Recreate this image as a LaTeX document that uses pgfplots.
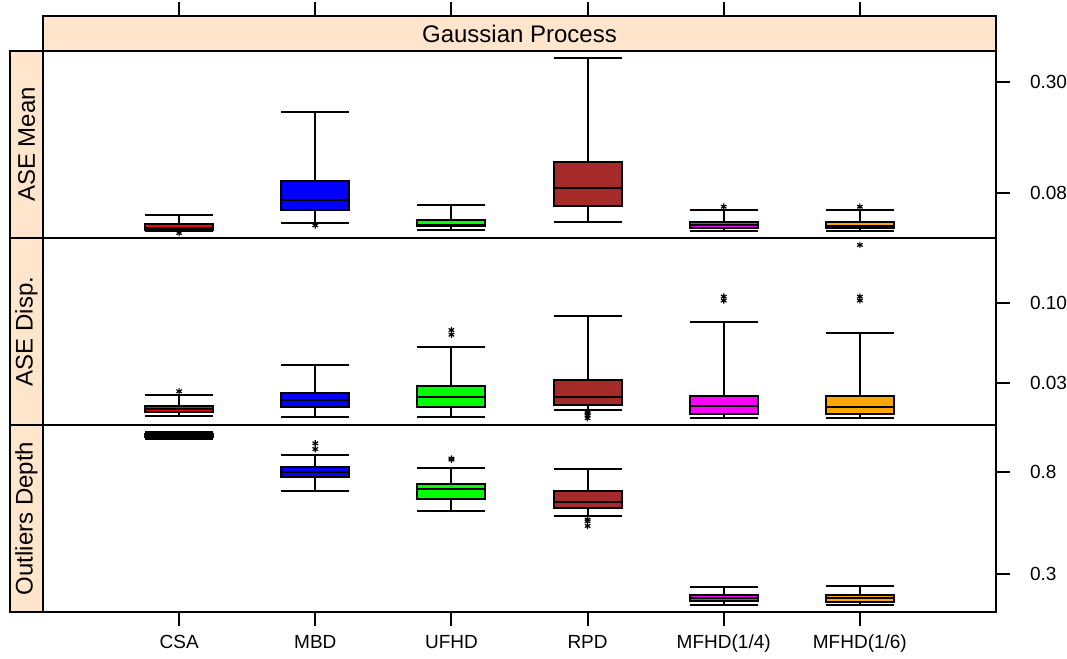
\documentclass[border=0pt]{standalone}
\usepackage{pgfplots}
\pgfplotsset{compat=1.18}
\usepgfplotslibrary{statistics}
\usepackage{fontspec}
\setmainfont{Liberation Sans}
\definecolor{strip}{HTML}{FFE5CC}
\definecolor{rpd}{HTML}{A52A2A}
\definecolor{orng}{HTML}{FFA500}
\definecolor{csa}{HTML}{FF0000}
\definecolor{mbd}{HTML}{0000FF}
\definecolor{ufhd}{HTML}{00FF00}
\definecolor{mfa}{HTML}{FF00FF}
\pgfplotsset{
  panel/.style={
    scale only axis, width=476.5pt, height=93.5pt,
    xmin=0, xmax=7, axis line style={line width=1pt},
    tick align=outside, major tick length=7pt,
    every tick/.style={black, line width=1pt},
    ytick pos=right, yticklabel pos=right,
    xtick=\empty,
    tick label style={font=\fontsize{9.5}{11}\selectfont},
    yticklabel style={anchor=west, xshift=6.5pt},
    xticklabel style={yshift=-1pt},
    anchor=south west,
    boxplot/draw direction=y,
  },
  bp/.style={draw=black, line width=1pt, mark=asterisk, mark size=1.6pt,
    mark options={line width=0.6pt, solid, black}},
}
\newcommand{\bx}[7]{% pos, color, lw, q1, med, q3, uw
  \addplot[bp, fill=#2, boxplot prepared={draw position=#1, lower whisker=#3,
    lower quartile=#4, median=#5, upper quartile=#6, upper whisker=#7,
    box extend=0.5, whisker extend=0.5}]}
\begin{document}
\begin{tikzpicture}
\useasboundingbox (0,0) rectangle (533.5pt,329.5pt);
% Panel 1: ASE Mean
\begin{axis}[panel, at={(21.5pt,210.5pt)}, ymode=log, ymin=0.04658, ymax=0.4344,
  ytick={0.08,0.3}, yticklabels={0.08,0.30}]
\bx{1}{csa}{0.0506}{0.0513}{0.0525}{0.0552}{0.0611} table[row sep=\\,y index=0]{y\\0.0494\\};
\bx{2}{mbd}{0.0559}{0.0653}{0.0736}{0.0920}{0.2097} table[row sep=\\,y index=0]{y\\0.0542\\};
\bx{3}{ufhd}{0.0513}{0.0536}{0.0547}{0.0578}{0.0693} coordinates {};
\bx{4}{rpd}{0.0562}{0.0680}{0.0849}{0.1154}{0.3995} coordinates {};
\bx{5}{mfa}{0.0506}{0.0523}{0.0544}{0.0564}{0.0653} table[row sep=\\,y index=0]{y\\0.0677\\};
\bx{6}{orng}{0.0506}{0.0523}{0.0540}{0.0564}{0.0653} table[row sep=\\,y index=0]{y\\0.0677\\};
\end{axis}
% Panel 2: ASE Disp.
\begin{axis}[panel, at={(21.5pt,117pt)}, ymode=log, ymin=0.0159, ymax=0.2672,
  ytick={0.03,0.1}, yticklabels={0.03,0.10}]
\bx{1}{csa}{0.01834}{0.01948}{0.02029}{0.02110}{0.02504} table[row sep=\\,y index=0]{y\\0.02644\\};
\bx{2}{mbd}{0.01787}{0.02079}{0.02323}{0.02559}{0.03933} coordinates {};
\bx{3}{ufhd}{0.01787}{0.02101}{0.02441}{0.02868}{0.0518} table[row sep=\\,y index=0]{y\\0.0621\\0.0666\\};
\bx{4}{rpd}{0.01999}{0.02164}{0.02415}{0.03153}{0.0826} table[row sep=\\,y index=0]{y\\0.01928\\0.01890\\0.01834\\0.01761\\};
\bx{5}{mfa}{0.01779}{0.01890}{0.02110}{0.02478}{0.0747} table[row sep=\\,y index=0]{y\\0.1040\\0.1104\\};
\bx{6}{orng}{0.01779}{0.01890}{0.02079}{0.02478}{0.0637} table[row sep=\\,y index=0]{y\\0.1040\\0.1104\\0.2405\\};
\end{axis}
% Panel 3: Outliers Depth
\begin{axis}[panel, at={(21.5pt,23.5pt)}, ymin=0.1120, ymax=1.0298,
  ytick={0.3,0.8}, yticklabels={0.3,0.8},
  xtick={1,2,3,4,5,6}, xtick pos=left,
  xticklabels={CSA,MBD,UFHD,RPD,MFHD(1/4),MFHD(1/6)}]
\bx{1}{csa}{0.9624}{0.9708}{0.9782}{0.9855}{0.9954} coordinates {};
\bx{2}{mbd}{0.7065}{0.7724}{0.8000}{0.8246}{0.8837} table[row sep=\\,y index=0]{y\\0.9117\\0.9398\\};
\bx{3}{ufhd}{0.6066}{0.6671}{0.7134}{0.7395}{0.8182} table[row sep=\\,y index=0]{y\\0.8600\\0.8650\\};
\bx{4}{rpd}{0.5835}{0.6228}{0.6509}{0.7050}{0.8148} table[row sep=\\,y index=0]{y\\0.5658\\0.5574\\0.5343\\};
\bx{5}{mfa}{0.1440}{0.1637}{0.1799}{0.1932}{0.2341} coordinates {};
\bx{6}{orng}{0.1440}{0.1602}{0.1784}{0.1967}{0.2375} coordinates {};
\end{axis}
% strips
\draw[line width=1pt, fill=strip] (21.5pt,304pt) rectangle (498pt,321.5pt);
\node[font=\fontsize{12}{14}\selectfont] at (259.75pt,312.75pt) {Gaussian Process};
\draw[line width=1pt, fill=strip] (5pt,210.5pt) rectangle (21.5pt,304pt);
\draw[line width=1pt, fill=strip] (5pt,117pt) rectangle (21.5pt,210.5pt);
\draw[line width=1pt, fill=strip] (5pt,23.5pt) rectangle (21.5pt,117pt);
\node[rotate=90, font=\fontsize{12}{14}\selectfont] at (13.25pt,257.25pt) {ASE Mean};
\node[rotate=90, font=\fontsize{12}{14}\selectfont] at (13.25pt,163.75pt) {ASE Disp.};
\node[rotate=90, font=\fontsize{12}{14}\selectfont] at (13.25pt,70.25pt) {Outliers Depth};
\foreach \i in {1,...,6} {
  \draw[line width=1pt] ({21.5pt+68.0714pt*\i},321.5pt) -- ++(0,7pt);
}
\end{tikzpicture}
\end{document}
